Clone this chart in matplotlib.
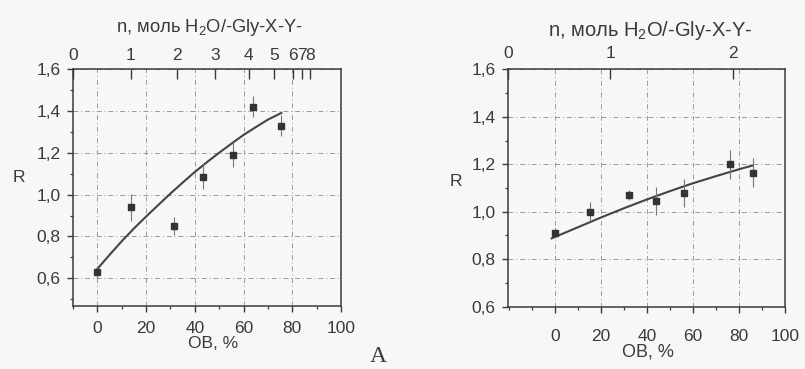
import matplotlib
matplotlib.use("Agg")
import matplotlib.pyplot as plt
from matplotlib.ticker import MultipleLocator, FuncFormatter

plt.rcParams['font.family'] = ['Liberation Sans', 'DejaVu Sans']
plt.rcParams['mathtext.fontset'] = 'custom'
plt.rcParams['mathtext.rm'] = 'Liberation Sans'
plt.rcParams['mathtext.it'] = 'Liberation Sans'

# ---- data: panel 1 (left) ----
left_ob = [0, 14, 31.5, 43.5, 55.7, 63.7, 75.5]
left_r = [0.63, 0.94, 0.85, 1.085, 1.19, 1.42, 1.33]
left_err = [0.03, 0.065, 0.045, 0.06, 0.06, 0.05, 0.05]
left_fit_ob = [0, 5, 10, 15, 20, 25, 30, 35, 40, 45, 50, 55, 60, 65, 70, 75.5]
left_fit_r = [0.645, 0.712, 0.777, 0.838, 0.895, 0.95, 1.005, 1.057, 1.108,
              1.155, 1.20, 1.243, 1.285, 1.322, 1.358, 1.39]
left_n_labels = ['0', '1', '2', '3', '4', '5', '6', '7', '8']
left_n_pos = [-10, 13.4, 32.3, 47.8, 61.5, 71.7, 79.5, 83.0, 86.5]

# ---- data: panel 2 (right) ----
right_ob = [0, 15, 32, 44, 56, 76, 86]
right_r = [0.91, 1.0, 1.07, 1.045, 1.08, 1.2, 1.165]
right_err = [0.02, 0.04, 0.02, 0.06, 0.06, 0.06, 0.06]
right_fit_ob = [-1.5, 10, 20, 30, 40, 50, 60, 70, 80, 86]
right_fit_r = [0.888, 0.935, 0.976, 1.015, 1.052, 1.087, 1.12, 1.15, 1.179, 1.195]
right_n_labels = ['0', '1', '2']
right_n_pos = [-20.5, 24, 77.5]

x_ticks = [0, 20, 40, 60, 80, 100]
y_ticks = [0.6, 0.8, 1.0, 1.2, 1.4, 1.6]

ink = '#3a3a3a'
bg = '#f7f7f5'
W, H = 805, 369

fig = plt.figure(figsize=(8.05, 3.69), dpi=100, facecolor=bg)


def comma(v, pos):
    return f"{v:.1f}".replace('.', ',')


def fx(px):
    return px / W


def fy(py):
    return 1 - py / H


def panel(box, ob, r, err, fob, fr, npos, nlab, xlim, ylim, xpad, toppad,
          nlab_xy, nsize, xlab_xy, xlsize, r_xy):
    x0, x1, ytop, ybot = box
    ax = fig.add_axes([fx(x0), fy(ybot), (x1 - x0) / W, (ybot - ytop) / H])
    ax.set_facecolor(bg)
    ax.set_xlim(*xlim)
    ax.set_ylim(*ylim)
    ax.set_xticks(x_ticks)
    ax.set_yticks(y_ticks)
    ax.xaxis.set_minor_locator(MultipleLocator(10))
    ax.yaxis.set_minor_locator(MultipleLocator(0.1))
    ax.yaxis.set_major_formatter(FuncFormatter(comma))
    ax.grid(True, which='major', color='#9a9a9a', linestyle=(0, (5, 3, 1, 3)), linewidth=0.7)
    ax.tick_params(which='major', direction='out', length=4, width=1.0, colors=ink,
                   labelsize=12.5, pad=5)
    ax.tick_params(which='minor', direction='out', length=2.5, width=0.9, colors=ink)
    ax.tick_params(axis='x', which='major', pad=xpad)
    for s in ax.spines.values():
        s.set_color(ink)
        s.set_linewidth(1.1)
    ax.plot(fob, fr, color='#444444', lw=1.5, zorder=3)
    ax.errorbar(ob, r, yerr=err, fmt='s', ms=5, color='#333333', ecolor='#777777',
                elinewidth=0.8, capsize=0, zorder=4)
    ax2 = ax.twiny()
    ax2.set_xlim(*xlim)
    ax2.set_xticks(npos)
    ax2.set_xticklabels(nlab)
    ax2.tick_params(direction='in', length=7, width=1.0, colors=ink, labelsize=12.5, pad=toppad)
    for s in ax2.spines.values():
        s.set_visible(False)
    fig.text(fx(nlab_xy[0]), fy(nlab_xy[1]), 'n, моль H$_2$O/-Gly-X-Y-', ha='center',
             va='center', fontsize=nsize, color=ink)
    fig.text(fx(xlab_xy[0]), fy(xlab_xy[1]), 'ОВ, %', ha='center', va='center',
             fontsize=xlsize, color=ink)
    fig.text(fx(r_xy[0]), fy(r_xy[1]), 'R', ha='center', va='center',
             fontsize=12.5, color=ink)
    return ax


panel((73, 341, 69, 305.5), left_ob, left_r, left_err, left_fit_ob, left_fit_r,
      left_n_pos, left_n_labels, (-10, 99), (0.47, 1.6), 7, 4,
      (209, 27), 13.2, (213, 343), 12.5, (19, 177))
panel((508, 785, 69.3, 306.7), right_ob, right_r, right_err, right_fit_ob, right_fit_r,
      right_n_pos, right_n_labels, (-20.5, 100), (0.6, 1.6), 12, 6,
      (650, 31), 14.5, (648, 352), 13, (456, 182))

fig.text(fx(378), fy(357), 'А', ha='center', va='center', fontsize=17,
         family=['Liberation Serif', 'DejaVu Serif'], color=ink)

fig.savefig('out.png', dpi=100, facecolor=bg)
